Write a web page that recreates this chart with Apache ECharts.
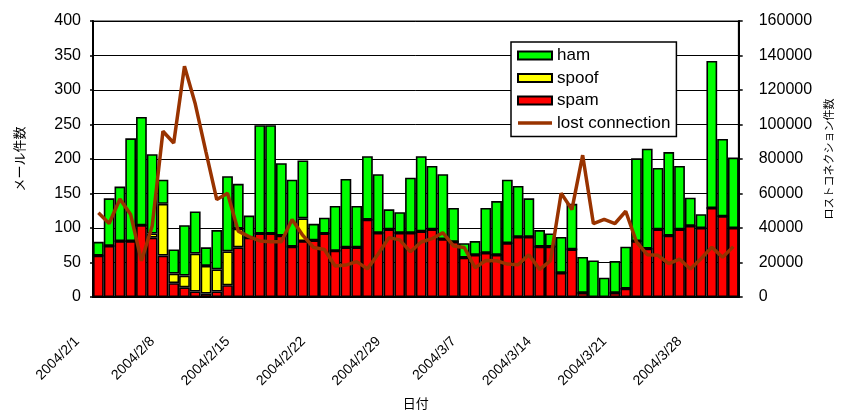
<!DOCTYPE html>
<html>
<head>
<meta charset="utf-8">
<script src="https://cdn.jsdelivr.net/npm/echarts@6/dist/echarts.min.js"></script>
<style>
  html, body { margin: 0; padding: 0; background: #fff; }
  #chart { width: 842px; height: 415px; }
</style>
</head>
<body>
<div id="chart"></div>
<script>
// Daily mail counts, 2004/2/1 - 2004/3/31
const dates = [
  '2004/2/1','2004/2/2','2004/2/3','2004/2/4','2004/2/5','2004/2/6','2004/2/7',
  '2004/2/8','2004/2/9','2004/2/10','2004/2/11','2004/2/12','2004/2/13','2004/2/14',
  '2004/2/15','2004/2/16','2004/2/17','2004/2/18','2004/2/19','2004/2/20','2004/2/21',
  '2004/2/22','2004/2/23','2004/2/24','2004/2/25','2004/2/26','2004/2/27','2004/2/28',
  '2004/2/29','2004/3/1','2004/3/2','2004/3/3','2004/3/4','2004/3/5','2004/3/6',
  '2004/3/7','2004/3/8','2004/3/9','2004/3/10','2004/3/11','2004/3/12','2004/3/13',
  '2004/3/14','2004/3/15','2004/3/16','2004/3/17','2004/3/18','2004/3/19','2004/3/20',
  '2004/3/21','2004/3/22','2004/3/23','2004/3/24','2004/3/25','2004/3/26','2004/3/27',
  '2004/3/28','2004/3/29','2004/3/30','2004/3/31'
];

const spam = [
  60, 74, 81, 81, 104, 86, 60, 20, 14, 8,
  5, 8, 17, 72, 86, 92, 92, 89, 73, 81,
  82, 92, 67, 72, 72, 112, 93, 98, 93, 93,
  95, 98, 84, 80, 57, 61, 64, 61, 78, 87,
  87, 73, 73, 35, 69, 6, 0, 0, 6, 12,
  81, 70, 98, 89, 98, 103, 100, 129, 117, 100
];

const spoof = [
  0, 0, 0, 0, 0, 6, 75, 14, 17, 55,
  40, 32, 49, 27, 0, 0, 0, 0, 0, 33,
  0, 0, 0, 0, 0, 0, 0, 0, 0, 0,
  0, 0, 0, 0, 0, 0, 0, 0, 0, 0,
  0, 0, 0, 0, 0, 0, 0, 0, 0, 0,
  0, 0, 0, 0, 0, 0, 0, 0, 0, 0
];

const ham = [
  20, 69, 79, 149, 157, 115, 35, 35, 73, 61,
  27, 57, 109, 65, 32, 157, 157, 105, 97, 84,
  24, 23, 65, 99, 60, 92, 85, 29, 30, 80,
  109, 92, 94, 49, 21, 20, 65, 78, 92, 74,
  56, 24, 19, 52, 66, 52, 53, 28, 46, 61,
  120, 145, 89, 121, 92, 41, 20, 213, 112, 102
];

const lostConnection = [
  48800, 42600, 56800, 47800, 21000, 41100, 96100, 89300, 133800, 112000,
  84000, 56500, 60200, 38200, 35000, 32500, 32000, 32000, 44900, 35700,
  28700, 27500, 18000, 18500, 20500, 16300, 24900, 34400, 33100, 26200,
  31900, 33800, 37300, 29600, 28700, 17000, 21200, 21000, 19100, 18700,
  24500, 16000, 21000, 60200, 50700, 82200, 42500, 45000, 42600, 49700,
  32000, 24500, 24200, 19300, 22000, 16200, 22200, 28900, 23000, 29200
];

const FONT = '"Liberation Sans", Arial, sans-serif';
const JP_FONT = '"Noto Sans CJK JP", sans-serif';
const LINE_COLOR = '#993300';

const barBorder = { borderColor: '#000', borderWidth: 1.6 };
const plainNumber = v => String(v);

const chart = echarts.init(document.getElementById('chart'), null, { renderer: 'canvas' });

chart.setOption({
  animation: false,
  backgroundColor: '#fff',
  grid: {
    left: 93, right: 94, top: 21, bottom: 115,
    show: true, borderColor: '#8c8c8c', borderWidth: 2, backgroundColor: 'transparent'
  },
  legend: {
    orient: 'vertical',
    left: 511, top: 42,
    padding: [5, 6, 5, 6],
    itemWidth: 34, itemHeight: 8, itemGap: 5.5,
    backgroundColor: '#fff',
    borderColor: '#000', borderWidth: 1.5, borderRadius: 0,
    textStyle: { fontFamily: FONT, fontSize: 17, color: '#000', lineHeight: 17 },
    data: [
      { name: 'ham', icon: 'rect' },
      { name: 'spoof', icon: 'rect' },
      { name: 'spam', icon: 'rect' },
      {
        name: 'lost connection',
        icon: 'path://M0,0H34V3.5H0Z',
        itemStyle: { color: LINE_COLOR, borderWidth: 0 }
      }
    ]
  },
  xAxis: {
    type: 'category',
    data: dates,
    boundaryGap: true,
    name: '日付',
    nameLocation: 'middle',
    nameGap: 100,
    nameTextStyle: { fontFamily: JP_FONT, fontSize: 13, color: '#000' },
    axisLine: { lineStyle: { color: '#000', width: 2 } },
    axisTick: { show: false },
    axisLabel: {
      interval: 6,
      rotate: 45,
      margin: 21,
      padding: [0, 30, 0, 0],
      fontFamily: FONT, fontSize: 14, color: '#000'
    },
    splitLine: { show: false }
  },
  yAxis: [
    {
      type: 'value',
      min: 0, max: 400, interval: 50,
      name: 'メール件数',
      nameLocation: 'middle',
      nameGap: 67,
      nameRotate: 90,
      nameTextStyle: { fontFamily: JP_FONT, fontSize: 13, color: '#000' },
      axisLine: { show: true, lineStyle: { color: '#000', width: 2 } },
      axisTick: { show: true, length: 3, lineStyle: { color: '#000', width: 1.5 } },
      axisLabel: { margin: 12, fontFamily: FONT, fontSize: 16, color: '#000', formatter: plainNumber },
      splitLine: { show: true, lineStyle: { color: '#000', width: 1 } }
    },
    {
      type: 'value',
      min: 0, max: 160000, interval: 20000,
      name: 'ロストコネクション件数',
      nameLocation: 'middle',
      nameGap: 75,
      nameRotate: 90,
      nameTextStyle: { fontFamily: JP_FONT, fontSize: 11, color: '#000' },
      position: 'right',
      axisLine: { show: true, lineStyle: { color: '#000', width: 2 } },
      axisTick: { show: true, length: 4, lineStyle: { color: '#000', width: 1.5 } },
      axisLabel: { margin: 20, fontFamily: FONT, fontSize: 16, color: '#000', formatter: plainNumber },
      splitLine: { show: false }
    }
  ],
  series: [
    {
      name: 'spam', type: 'bar', stack: 'mail',
      data: spam,
      barCategoryGap: '0%',
      itemStyle: Object.assign({ color: '#ff0000' }, barBorder)
    },
    {
      name: 'spoof', type: 'bar', stack: 'mail',
      data: spoof,
      barCategoryGap: '0%',
      itemStyle: Object.assign({ color: '#ffff00' }, barBorder)
    },
    {
      name: 'ham', type: 'bar', stack: 'mail',
      data: ham,
      barCategoryGap: '0%',
      itemStyle: Object.assign({ color: '#00ff00' }, barBorder)
    },
    {
      name: 'lost connection', type: 'line',
      yAxisIndex: 1,
      data: lostConnection,
      symbol: 'none',
      z: 5,
      lineStyle: { color: LINE_COLOR, width: 3.5 },
      itemStyle: { color: LINE_COLOR }
    }
  ]
});
</script>
</body>
</html>
